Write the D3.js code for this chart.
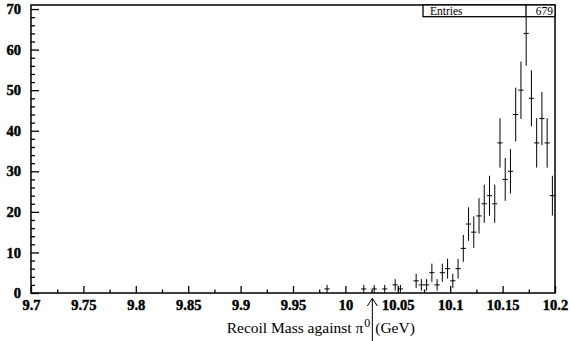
<!DOCTYPE html>
<html>
<head>
<meta charset="utf-8">
<script src="https://cdn.jsdelivr.net/npm/d3@7"></script>
<style>
  html, body { margin: 0; padding: 0; background: #fff; }
  svg { display: block; }
  text { font-family: "Liberation Serif", "Times New Roman", serif; }
  .tick-labels text { font-family: "Liberation Serif", serif; font-weight: 700; font-size: 14.5px; fill: #000; stroke: #000; stroke-width: 0.45px; }
</style>
</head>
<body>
<svg id="chart"></svg>
<script>
// histogram of recoil mass, 100 bins of 0.005 GeV, only non-empty bins kept
const binWidth = 0.005;
const binCenters = [9.9825, 10.0175, 10.0275, 10.0375, 10.0475, 10.0525,
  10.0675, 10.0725, 10.0775, 10.0825, 10.0875, 10.0925, 10.0975, 10.1025, 10.1075,
  10.1125, 10.1175, 10.1225, 10.1275, 10.1325, 10.1375, 10.1425, 10.1475, 10.1525,
  10.1575, 10.1625, 10.1675, 10.1725, 10.1775, 10.1825, 10.1875, 10.1925, 10.1975];
const counts = [1, 1, 1, 1, 2, 1,
  3, 2, 2, 5, 2, 5, 6, 3, 6,
  11, 17, 15, 19, 22, 24, 22, 37, 28,
  30, 44, 50, 64, 48, 37, 43, 37, 24];
const xTickLabels = ['9.7', '9.75', '9.8', '9.85', '9.9', '9.95', '10', '10.05', '10.1', '10.15', '10.2'];
const yTickLabels = ['0', '10', '20', '30', '40', '50', '60', '70'];
const entries = 679;
const arrowMass = 10.0257;

const width = 570, height = 341;
const marginLeft = 31, marginRight = 15, marginTop = 5, marginBottom = 48;

const svg = d3.select('#chart')
  .attr('width', width)
  .attr('height', height)
  .attr('viewBox', [0, 0, width, height]);

const x = d3.scaleLinear().domain([9.7, 10.2]).range([marginLeft, width - marginRight]);
const y = d3.scaleLinear().domain([0, 71]).range([height - marginBottom, marginTop]);

const data = binCenters.map((c, i) => ({ x: c, n: counts[i] }));

svg.append('clipPath').attr('id', 'plot-clip')
  .append('rect')
  .attr('x', x(9.7)).attr('y', y(71))
  .attr('width', x(10.2) - x(9.7)).attr('height', y(0) - y(71));

/** AXES **/
const yMajor = yTickLabels.map(Number);
const yMinor = d3.range(0, 71, 2).filter((v) => v % 10 !== 0);
const xMajor = xTickLabels.map(Number);
const xMinor = xMajor.slice(0, -1).map((v) => +(v + 0.025).toFixed(3));

svg.append('g')
  .attr('transform', `translate(${marginLeft},0)`)
  .call(d3.axisLeft(y).tickValues(yMinor).tickSize(-4).tickFormat(''))
  .call((g) => g.select('.domain').remove())
  .call((g) => g.selectAll('line').attr('stroke-width', 1.3));

svg.append('g')
  .attr('class', 'tick-labels')
  .attr('transform', `translate(${marginLeft},0)`)
  .call(d3.axisLeft(y).tickValues(yMajor).tickSize(-8).tickPadding(10).tickFormat((d) => String(d)))
  .attr('font-family', null).attr('font-size', null)
  .call((g) => g.select('.domain').remove())
  .call((g) => g.selectAll('line').attr('stroke-width', 1.3));

svg.append('g')
  .attr('transform', `translate(0,${height - marginBottom})`)
  .call(d3.axisBottom(x).tickValues(xMinor).tickSize(-3.5).tickFormat(''))
  .call((g) => g.select('.domain').remove())
  .call((g) => g.selectAll('line').attr('stroke-width', 1.3));

svg.append('g')
  .attr('class', 'tick-labels')
  .attr('transform', `translate(0,${height - marginBottom})`)
  .call(d3.axisBottom(x).tickValues(xMajor).tickSize(-7).tickPadding(7)
    .tickFormat((d, i) => xTickLabels[i]))
  .attr('font-family', null).attr('font-size', null)
  .call((g) => g.select('.domain').remove())
  .call((g) => g.selectAll('line').attr('stroke-width', 1.3));

/** DATA POINTS WITH ERRORS **/
const pts = svg.append('g')
  .attr('clip-path', 'url(#plot-clip)')
  .attr('stroke', '#000').attr('stroke-width', 1);
pts.selectAll('line.v')
  .data(data)
  .join('line')
  .attr('class', 'v')
  .attr('x1', (d) => x(d.x)).attr('x2', (d) => x(d.x))
  .attr('y1', (d) => y(d.n - Math.sqrt(d.n)))
  .attr('y2', (d) => y(d.n + Math.sqrt(d.n)));
pts.selectAll('line.h')
  .data(data)
  .join('line')
  .attr('class', 'h')
  .attr('x1', (d) => x(d.x - binWidth / 2)).attr('x2', (d) => x(d.x + binWidth / 2))
  .attr('y1', (d) => y(d.n)).attr('y2', (d) => y(d.n));

// frame
svg.append('rect')
  .attr('x', x(9.7)).attr('y', y(71))
  .attr('width', x(10.2) - x(9.7)).attr('height', y(0) - y(71))
  .attr('fill', 'none').attr('stroke', '#000').attr('stroke-width', 1.5);

/** STATS BOX **/
const boxL = 423, boxR = x(10.2), boxDiv = 526, boxT = y(71), boxB = 16.7;
svg.append('rect')
  .attr('x', boxL).attr('y', boxT).attr('width', boxR - boxL).attr('height', boxB - boxT)
  .attr('fill', '#fff').attr('stroke', '#000').attr('stroke-width', 1.3);
svg.append('line')
  .attr('x1', boxDiv).attr('x2', boxDiv).attr('y1', boxT).attr('y2', boxB)
  .attr('stroke', '#000').attr('stroke-width', 1.3);
svg.append('text').attr('x', 430).attr('y', 15).text('Entries')
  .style('font-size', '11.5px');
svg.append('text').attr('x', boxR - 2).attr('y', 15).text(entries)
  .style('font-size', '11.5px').attr('text-anchor', 'end');

/** AXIS TITLE **/
const title = svg.append('text').attr('x', 226.7).attr('y', 332.5)
  .style('font-size', '15.5px');
title.append('tspan').text('Recoil Mass against \u03c0');
title.append('tspan').text('0').attr('dx', 1).attr('dy', -6).style('font-size', '12px');
title.append('tspan').text('(GeV)').attr('dy', 6).attr('dx', 5);

/** ARROW **/
const ax = x(arrowMass), tipY = 298.3;
svg.append('path')
  .attr('d', `M${ax - 5},${tipY + 7.7}L${ax},${tipY}L${ax + 5},${tipY + 7.7}M${ax},${tipY}L${ax},${height}`)
  .attr('fill', 'none').attr('stroke', '#000').attr('stroke-width', 1);
</script>
</body>
</html>
